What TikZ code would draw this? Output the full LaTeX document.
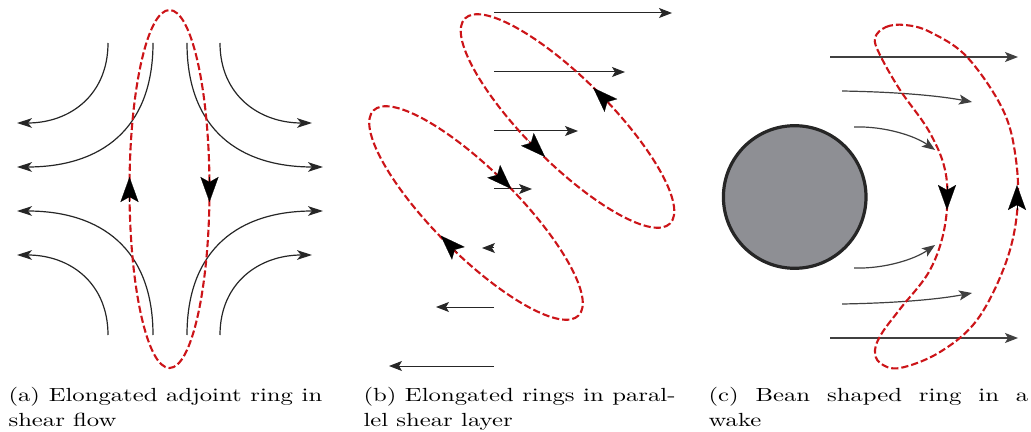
\documentclass[tikz,border=0pt]{standalone}
\usetikzlibrary{arrows.meta}
\definecolor{ringred}{RGB}{204,20,24}
\definecolor{cylgray}{RGB}{142,143,148}
\definecolor{cyledge}{RGB}{38,38,38}
\begin{document}
\begin{tikzpicture}[x=0.5pt,y=-0.5pt,
  ring/.style={draw=ringred, line width=1.05pt, dash pattern=on 3.6pt off 1.5pt},
  ringtip/.style={black, line width=0.1pt, -{Stealth[length=12.5pt,width=9pt,inset=2.5pt]}},
  flowa/.style={draw=black!85, line width=0.6pt, -{Stealth[length=7.5pt,width=4.8pt,inset=2pt]}},
  flowb/.style={draw=black!85, line width=0.5pt, -{Stealth[length=6.5pt,width=5pt,inset=1.5pt]}},
  flowc/.style={draw=black!75, line width=0.6pt, -{Stealth[length=6.5pt,width=5pt,inset=1.5pt]}},
  captext/.style={anchor=base west, inner sep=0pt, xscale=1.30, font=\fontsize{9.5}{12}\selectfont},
]
\useasboundingbox (0,0) rectangle (1031,432);

% ---------- (a) ----------
\draw[flowa] (108,43) .. controls (108,95) and (70,123) .. (17,123);
\draw[flowa] (153,43) .. controls (153,130) and (100,167) .. (17,167);
\draw[flowa] (153,335) .. controls (153,248) and (100,211) .. (17,211);
\draw[flowa] (108,335) .. controls (108,283) and (70,255) .. (17,255);
\draw[flowa] (220,43) .. controls (220,95) and (259,123) .. (312,123);
\draw[flowa] (187,43) .. controls (187,130) and (240,167) .. (323,167);
\draw[flowa] (187,335) .. controls (187,248) and (240,211) .. (323,211);
\draw[flowa] (220,335) .. controls (220,283) and (259,255) .. (312,255);
\draw[ring] (169.5,189) ellipse (40 and 179);
\draw[ringtip] (129.5,202) -- (129.5,177);
\draw[ringtip] (209.5,177) -- (209.5,202);

% ---------- (b) ----------
\draw[flowb] (494,13) -- (672,13);
\draw[flowb] (494,72) -- (625,72);
\draw[flowb] (494,131) -- (578,131);
\draw[flowb] (494,189) -- (532,189);
\draw[flowb] (494,248) -- (482,248);
\draw[flowb] (494,307) -- (436,307);
\draw[flowb] (494,366) -- (389,366);
\draw[ring, rotate around={-45:(567.5,121)}] (567.5,121) ellipse (145 and 42);
\draw[ring, rotate around={-45:(476,213)}] (476,213) ellipse (145 and 42);
\draw[ringtip] (610.1,104.7) -- (593.2,87.8);
\draw[ringtip] (528.1,140.1) -- (545.1,157.0);
\draw[ringtip] (494.4,172.0) -- (511.4,189.0);
\draw[ringtip] (457.6,252.6) -- (440.7,235.6);

% ---------- (c) ----------
\draw[cyledge, fill=cylgray, line width=1.6pt] (794.7,197) circle [radius=71.3];
\draw[flowc] (830,57) -- (1018,57);
\draw[flowc] (842,91) .. controls (900,92) and (940,96) .. (972,102);
\draw[flowc] (854,127) .. controls (885,126) and (915,136) .. (935,150);
\draw[flowc] (854,268) .. controls (885,269) and (915,259) .. (935,245);
\draw[flowc] (842,304) .. controls (900,303) and (940,299) .. (972,293);
\draw[flowc] (830,338) -- (1018,338);
\draw[ring] plot[smooth cycle, tension=0.6] coordinates {
  (875,38) (886,27) (905,25) (930,32) (967,57) (1003,110) (1016,160)
  (1017,213) (1005,265) (977,320) (940,352) (900,368) (880,363) (875,350)
  (882,333) (900,309) (930,270) (945,225) (946,175) (930,133) (900,90) (880,55)};
\draw[ringtip] (947,186) -- (947,210);
\draw[ringtip] (1017,210) -- (1017,185);

% ---------- captions ----------
\node[captext] (capa1) at (8,401) {\makebox[120.7pt][s]{(a) Elongated adjoint ring in}};
\node[captext] (capa2) at (8,426) {shear flow};
\node[captext] (capb1) at (363,401) {\makebox[120.0pt][s]{(b) Elongated rings in paral-}};
\node[captext] (capb2) at (363,426) {lel shear layer};
\node[captext] (capc1) at (708,401) {\makebox[123.0pt][s]{(c) Bean shaped ring in a}};
\node[captext] (capc2) at (708,426) {wake};
\end{tikzpicture}
\end{document}
